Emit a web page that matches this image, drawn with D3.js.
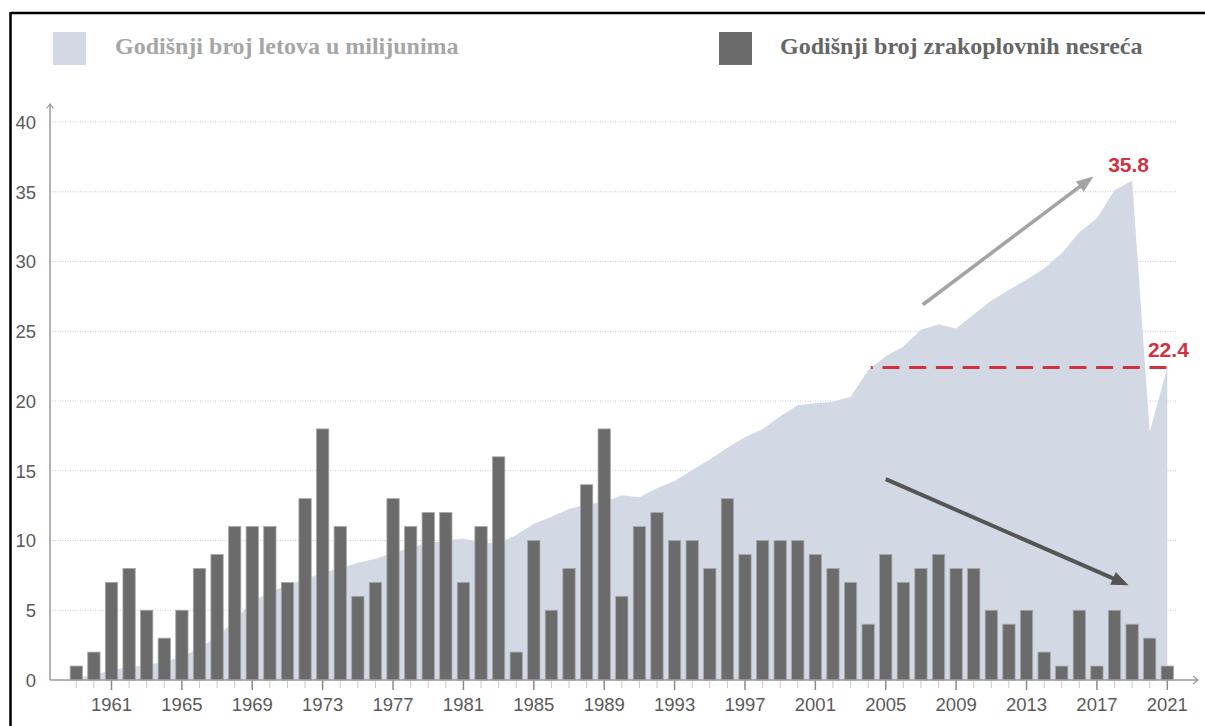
<!DOCTYPE html>
<html>
<head>
<meta charset="utf-8">
<script src="https://cdn.jsdelivr.net/npm/d3@7"></script>
<style>
  html, body { margin: 0; padding: 0; background: #ffffff; }
  svg { display: block; }
</style>
</head>
<body>
<svg id="chart" width="1205" height="726"></svg>
<script>
// ---------------- data ----------------
const years = d3.range(1959, 2022);
const accidents = [
  1, 2, 7, 8, 5, 3, 5, 8, 9, 11, 11, 11, 7, 13, 18, 11, 6, 7, 13, 11,
  12, 12, 7, 11, 16, 2, 10, 5, 8, 14, 18, 6, 11, 12, 10, 10, 8, 13, 9, 10,
  10, 10, 9, 8, 7, 4, 9, 7, 8, 9, 8, 8, 5, 4, 5, 2, 1, 5, 1, 5,
  4, 3, 1
];
const flights = [
  0.1, 0.4, 0.7, 0.95, 1.07, 1.3, 1.67, 2.3, 3.1, 4.3, 5.6, 6.3, 6.8, 7.2, 7.7, 8.0, 8.4, 8.7, 9.1, 9.5,
  9.8, 10.0, 10.15, 9.85, 9.8, 10.4, 11.2, 11.7, 12.25, 12.6, 12.75, 13.25, 13.1, 13.75, 14.27, 15.05, 15.8, 16.65, 17.4, 17.97,
  18.9, 19.7, 19.83, 19.95, 20.3, 22.2, 23.2, 23.9, 25.1, 25.5, 25.2, 26.2, 27.2, 27.96, 28.7, 29.5, 30.6, 32.1, 33.1, 35.1,
  35.8, 17.8, 22.4
];
const yTicks = [0, 5, 10, 15, 20, 25, 30, 35, 40];
const labelYears = d3.range(1961, 2022, 4);
const legendLabels = ["Godišnji broj letova u milijunima", "Godišnji broj zrakoplovnih nesreća"];
const peakLabel = "35.8";
const lastLabel = "22.4";
const refValue = 22.4;
const refStartYear = 2004.15;
const upArrow = [[2007.1, 26.9], [2016.8, 36.1]];
const downArrow = [[2005.0, 14.4], [2018.8, 6.8]];

// ---------------- setup ----------------
const svg = d3.select("#chart");
const colArea = "#d2d9e4";
const colBar = "#6b6b6b";
const colRed = "#d0323f";

const x = d3.scaleBand().domain(years).range([67.5, 1176.1]).paddingInner(0.3).paddingOuter(0.15);
const bw = x.bandwidth();
const cx = d => x(d) + bw / 2;
const xLin = d3.scaleLinear().domain([1959, 2021]).range([cx(1959), cx(2021)]);
const y = d3.scaleLinear().domain([0, 40]).range([680, 122]);
const axisX0 = 50, axisXEnd = 1198;

// frame
svg.append("line").attr("x1", 10.5).attr("x2", 1205).attr("y1", 13).attr("y2", 13)
  .attr("stroke", "#000").attr("stroke-width", 2.5);
svg.append("line").attr("x1", 10.5).attr("x2", 10.5).attr("y1", 12).attr("y2", 726)
  .attr("stroke", "#000").attr("stroke-width", 2.5);

// legend
const legend = svg.append("g");
legend.append("rect").attr("x", 53).attr("y", 32).attr("width", 33).attr("height", 33).attr("fill", colArea);
legend.append("text").attr("x", 115).attr("y", 54).text(legendLabels[0])
  .attr("font-family", "'Liberation Serif', 'Times New Roman', serif").attr("font-weight", "bold")
  .attr("font-size", 24).attr("fill", "#a6a6a6");
legend.append("rect").attr("x", 719).attr("y", 32).attr("width", 33).attr("height", 33).attr("fill", colBar);
legend.append("text").attr("x", 780).attr("y", 54).text(legendLabels[1])
  .attr("font-family", "'Liberation Serif', 'Times New Roman', serif").attr("font-weight", "bold")
  .attr("font-size", 24).attr("fill", "#666666");

// grid
svg.append("g").selectAll("line").data(yTicks.filter(t => t > 0)).join("line")
  .attr("x1", axisX0).attr("x2", 1177).attr("y1", d => y(d)).attr("y2", d => y(d))
  .attr("stroke", "#c8c8c8").attr("stroke-width", 1).attr("stroke-dasharray", "1,1.5");

// area
const area = d3.area().x((d, i) => cx(years[i])).y0(y(0)).y1(d => y(d)).curve(d3.curveLinear);
svg.append("path").datum(flights).attr("d", area).attr("fill", colArea);

// bars
svg.append("g").selectAll("rect").data(accidents).join("rect")
  .attr("x", (d, i) => x(years[i])).attr("width", bw)
  .attr("y", d => y(d)).attr("height", d => y(0) - y(d))
  .attr("fill", colBar).attr("stroke", "#a9a9a9").attr("stroke-width", 0.8);

// x axis
const xAxis = d3.axisBottom(x).tickValues(years).tickSize(8).tickSizeOuter(0)
  .tickFormat(d => labelYears.includes(d) ? String(d) : "");
const gx = svg.append("g").attr("transform", `translate(0,${y(0)})`).call(xAxis);
gx.select(".domain").remove();
gx.selectAll(".tick line").attr("stroke", "#c8c8c8").attr("stroke-width", 1);
gx.selectAll(".tick").filter(d => labelYears.includes(d)).select("line")
  .attr("y2", 10).attr("stroke", "#8a8a8a").attr("stroke-width", 1.5);
gx.selectAll(".tick text").attr("y", 31).attr("dy", 0)
  .attr("font-family", "'Liberation Sans', Arial, Helvetica, sans-serif")
  .attr("font-size", 18.5).attr("fill", "#5a5a5a");
svg.append("line").attr("x1", axisX0).attr("x2", axisXEnd).attr("y1", y(0)).attr("y2", y(0))
  .attr("stroke", "#9a9a9a").attr("stroke-width", 1.5);
svg.append("path").attr("d", `M${axisXEnd - 5},${y(0) - 4}L${axisXEnd},${y(0)}L${axisXEnd - 5},${y(0) + 4}`)
  .attr("fill", "none").attr("stroke", "#9a9a9a").attr("stroke-width", 1.2);

// y axis
const yAxis = d3.axisLeft(y).tickValues(yTicks).tickSize(0).tickFormat(d3.format("d"));
const gy = svg.append("g").attr("transform", `translate(${axisX0 - 14},0)`).call(yAxis);
gy.select(".domain").remove();
gy.selectAll(".tick text").attr("x", 0).attr("dy", "0.35em")
  .attr("font-family", "'Liberation Sans', Arial, Helvetica, sans-serif")
  .attr("font-size", 18.5).attr("fill", "#5a5a5a");
svg.append("line").attr("x1", axisX0).attr("x2", axisX0).attr("y1", y(0)).attr("y2", 104)
  .attr("stroke", "#9a9a9a").attr("stroke-width", 1.5);
svg.append("path").attr("d", `M${axisX0 - 3.5},108.5L${axisX0},104L${axisX0 + 3.5},108.5`)
  .attr("fill", "none").attr("stroke", "#9a9a9a").attr("stroke-width", 1.2);

// reference dashed line
svg.append("line").attr("x1", xLin(refStartYear)).attr("x2", xLin(2021))
  .attr("y1", y(refValue)).attr("y2", y(refValue))
  .attr("stroke", colRed).attr("stroke-width", 2.8)
  .attr("stroke-dasharray", "17,9.7").attr("stroke-dashoffset", 15);

// arrows
function arrow(pts, color, width, headLen, headW) {
  const [x1, y1] = [xLin(pts[0][0]), y(pts[0][1])];
  const [x2, y2] = [xLin(pts[1][0]), y(pts[1][1])];
  const ang = Math.atan2(y2 - y1, x2 - x1);
  const bx = x2 - headLen * Math.cos(ang), by = y2 - headLen * Math.sin(ang);
  svg.append("line").attr("x1", x1).attr("y1", y1).attr("x2", bx + 2 * Math.cos(ang)).attr("y2", by + 2 * Math.sin(ang))
    .attr("stroke", color).attr("stroke-width", width);
  const px = -Math.sin(ang) * headW / 2, py = Math.cos(ang) * headW / 2;
  svg.append("path").attr("d", `M${x2},${y2}L${bx + px},${by + py}L${bx - px},${by - py}Z`).attr("fill", color);
}
arrow(upArrow, "#a3a3a3", 3.6, 17, 13);
arrow(downArrow, "#555555", 4, 17, 14);

// value labels
svg.append("text").attr("x", xLin(2018.8)).attr("y", y(35.8) - 9).attr("text-anchor", "middle")
  .attr("font-family", "'Liberation Sans', Arial, Helvetica, sans-serif").attr("font-weight", "bold")
  .attr("font-size", 21).attr("fill", colRed).text(peakLabel);
svg.append("text").attr("x", xLin(2019.9)).attr("y", y(refValue) - 11).attr("text-anchor", "start")
  .attr("font-family", "'Liberation Sans', Arial, Helvetica, sans-serif").attr("font-weight", "bold")
  .attr("font-size", 21).attr("fill", colRed).text(lastLabel);
</script>
</body>
</html>
